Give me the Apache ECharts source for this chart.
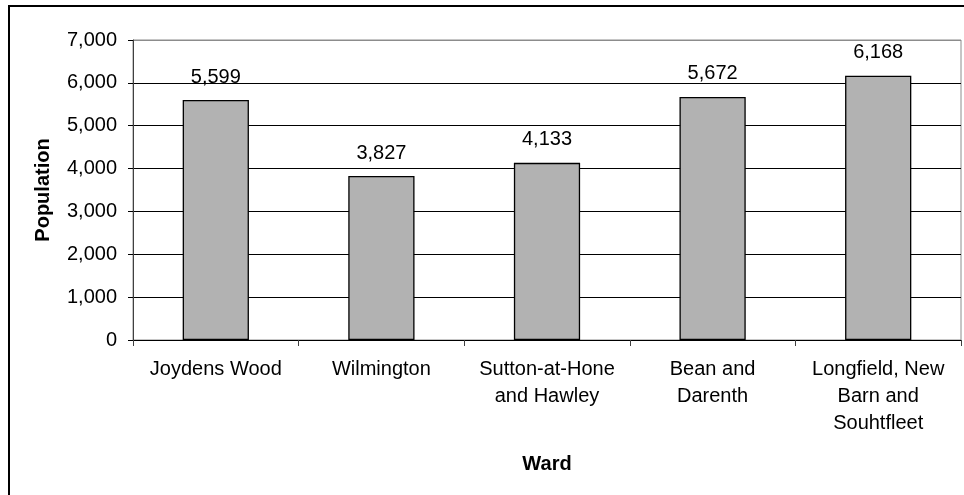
<!DOCTYPE html>
<html>
<head>
<meta charset="utf-8">
<script src="https://cdn.jsdelivr.net/npm/echarts@6/dist/echarts.min.js"></script>
<style>
  html, body { margin: 0; padding: 0; background: #fff; }
  #chart { width: 964px; height: 495px; }
</style>
</head>
<body>
<div id="chart"></div>
<script>
// Ward populations
const wards = [
  'Joydens Wood',
  'Wilmington',
  'Sutton-at-Hone\nand Hawley',
  'Bean and\nDarenth',
  'Longfield, New\nBarn and\nSouhtfleet'
];
const population = [5599, 3827, 4133, 5672, 6168];
const yTicks = { min: 0, max: 7000, interval: 1000 };

const FONT = "'Liberation Sans', Arial, sans-serif";
const fmt = v => String(v).replace(/\B(?=(\d{3})+(?!\d))/g, ',');

const chart = echarts.init(document.getElementById('chart'), null, { renderer: 'canvas' });

chart.setOption({
  animation: false,
  backgroundColor: '#fff',
  textStyle: { fontFamily: FONT },
  grid: {
    left: 133, top: 40, right: 3, bottom: 155,
    show: true, borderColor: '#8c8c8c', borderWidth: 1, backgroundColor: 'transparent'
  },
  graphic: [{
    type: 'rect',
    shape: { x: 9, y: 6, width: 1100, height: 1100 },
    style: { fill: 'none', stroke: '#000', lineWidth: 2 },
    silent: true
  }],
  xAxis: {
    type: 'category',
    data: wards,
    name: 'Ward',
    nameLocation: 'middle',
    nameGap: 114,
    nameTextStyle: { fontFamily: FONT, fontSize: 20, fontWeight: 'bold', color: '#000' },
    axisLine: { lineStyle: { color: '#000', width: 1 } },
    axisTick: { show: true, length: 6, lineStyle: { color: '#404040' } },
    axisLabel: {
      fontFamily: FONT, fontSize: 20, color: '#000', lineHeight: 27,
      margin: 16, interval: 0, align: 'center'
    }
  },
  yAxis: {
    type: 'value',
    min: yTicks.min, max: yTicks.max, interval: yTicks.interval,
    name: 'Population',
    nameLocation: 'middle',
    nameGap: 80,
    nameRotate: 90,
    nameTextStyle: { fontFamily: FONT, fontSize: 20, fontWeight: 'bold', color: '#000' },
    axisLine: { show: true, lineStyle: { color: '#404040', width: 1 } },
    axisTick: { show: true, length: 5, inside: false, lineStyle: { color: '#000' } },
    axisLabel: { fontFamily: FONT, fontSize: 20, color: '#000', margin: 16, formatter: fmt },
    splitLine: {
      show: true,
      lineStyle: { color: ['#000', '#000', '#000', '#000', '#000', '#000', '#000', '#8c8c8c'], width: 1 }
    }
  },
  series: [{
    type: 'bar',
    data: population,
    barWidth: '40%',
    itemStyle: { color: '#b2b2b2', borderColor: '#000', borderWidth: 1.3 },
    label: {
      show: true, position: 'top', distance: 13,
      fontFamily: FONT, fontSize: 20, color: '#000',
      formatter: p => fmt(p.value)
    }
  }]
});
</script>
</body>
</html>
